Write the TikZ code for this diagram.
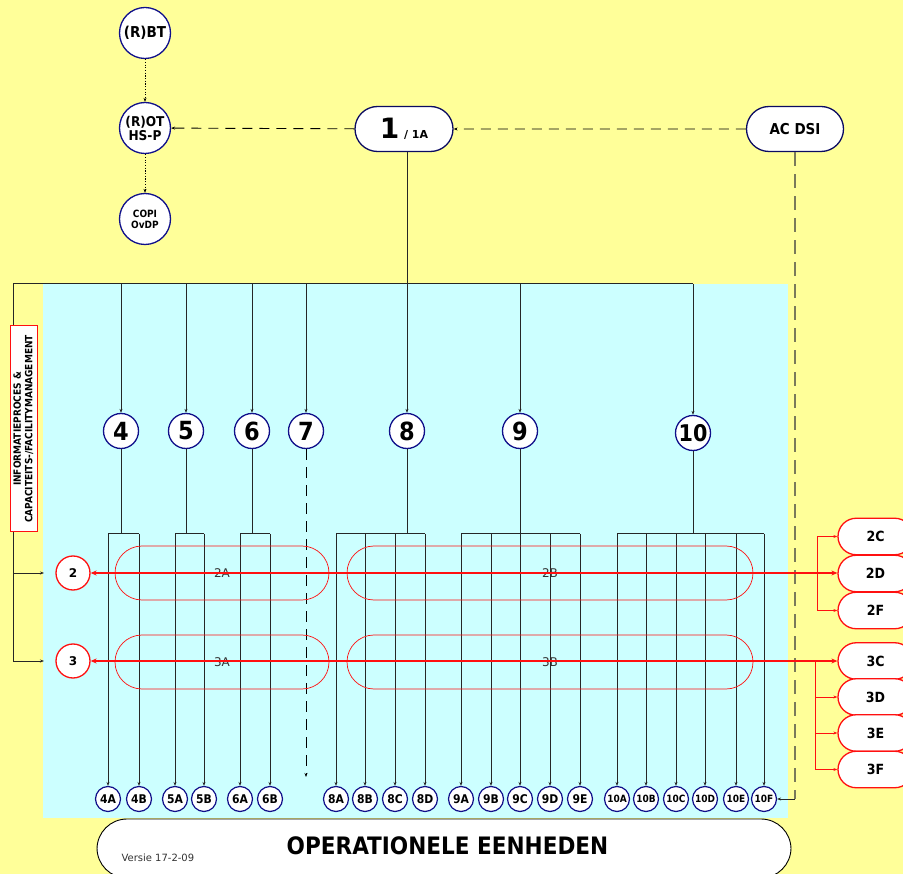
\documentclass[tikz,border=0pt]{standalone}
\usepackage{fontspec}
\setmainfont{DejaVu Sans}
\newfontfamily\cond{DejaVu Sans Condensed}
\usetikzlibrary{arrows.meta,shapes.misc}
\definecolor{bgyellow}{HTML}{FFFF99}
\definecolor{bgcyan}{HTML}{CCFFFF}
\definecolor{navyb}{HTML}{10108A}
\definecolor{dsigray}{HTML}{7A7A5A}
\definecolor{redl}{HTML}{FF1010}
\definecolor{txtgray}{HTML}{333333}
\tikzset{
  tip/.style={-{Stealth[length=4pt,width=3pt]}},
  blk/.style={draw=black!85, line width=1pt},
  mcirc/.style={circle, draw=navyb, line width=1.3pt, fill=white, inner sep=0pt, minimum size=35pt, font=\cond\bfseries\fontsize{25}{25}\selectfont},
  tcirc/.style={circle, draw=navyb, line width=1.3pt, fill=white, inner sep=0pt, minimum size=51pt, align=center, font=\cond\bfseries},
  bcirc/.style={circle, draw=navyb, line width=1.2pt, fill=white, inner sep=0pt, minimum size=25pt, font=\cond\bfseries\fontsize{12}{12}\selectfont},
  bcircs/.style={bcirc, font=\cond\bfseries\fontsize{10}{10}\selectfont},
  stad/.style={rounded rectangle, draw=navyb!70!black, line width=1.3pt, fill=white, minimum height=45pt, inner sep=0pt},
  rcirc/.style={circle, draw=redl, line width=1.3pt, fill=white, inner sep=0pt, minimum size=34pt, font=\bfseries\fontsize{12}{12}\selectfont},
  rbox/.style={rounded rectangle, draw=redl, line width=1.3pt, fill=white, minimum width=75pt, minimum height=36.5pt, inner sep=0pt, font=\cond\bfseries\fontsize{14}{14}\selectfont},
  rstad/.style={rounded rectangle, draw=redl, line width=0.7pt, minimum height=54pt, inner sep=0pt, font=\fontsize{12}{12}\selectfont, text=txtgray},
  redline/.style={draw=redl, line width=1.8pt},
  redthin/.style={draw=redl, line width=1pt},
  dasharr/.style={draw=black, line width=0.9pt, dash pattern=on 10pt off 7pt, tip},
  dotarr/.style={draw=black, line width=0.9pt, dash pattern=on 1.2pt off 1.5pt, tip},
}
\begin{document}
\begin{tikzpicture}[x=1pt,y=-1pt]
\useasboundingbox (0,0) rectangle (903,874);
\clip (0,0) rectangle (903,874);
\fill[bgyellow] (0,0) rectangle (903,874);
\fill[bgcyan] (43,284) rectangle (788,818);

% top nodes
\node[tcirc, font=\cond\bfseries\fontsize{15}{15}\selectfont] (rbt) at (145,33) {(R)BT};
\node[tcirc, font=\cond\bfseries\fontsize{13.5}{14}\selectfont] (rot) at (145,128) {(R)OT\\HS-P};
\node[tcirc, font=\cond\bfseries\fontsize{10}{11}\selectfont] (copi) at (145,219) {COPI\\OvDP};
\node[stad, minimum width=98pt] (one) at (404,129) {\fontsize{28}{28}\selectfont\bfseries 1\,\fontsize{11}{11}\selectfont / 1A};
\node[stad, minimum width=97pt, font=\cond\bfseries\fontsize{15}{15}\selectfont] (dsi) at (795,129) {AC DSI};

\draw[dotarr] (rbt) -- (rot);
\draw[dotarr] (rot) -- (copi);
\draw[dasharr] (dsi) -- (one);
\draw[dasharr] (one) -- (rot);

% distribution line
\coordinate (hl) at (13,284);
\coordinate (hr) at (693,284);
\coordinate (hj) at (407,284);
\draw[blk] (one.south -| hj) -- (hj);
\draw[blk] (hl) -- (hr);
\coordinate (l2) at (13,573);
\coordinate (l3) at (13,661);
\coordinate (a2) at (44,573);
\coordinate (a3) at (44,661);
\draw[blk] (hl) -- (l3);
\draw[blk,tip] (l2) -- (a2);
\draw[blk,tip] (l3) -- (a3);

% left label
\node[draw=redl, line width=1pt, fill=white, rotate=90, minimum width=206pt, minimum height=27pt, inner sep=1pt, align=center, font=\cond\bfseries\fontsize{10}{11.5}\selectfont] (info) at (23.5,429) {INFORMATIEPROCES \&\\CAPACITEITS-/FACILITYMANAGEMENT};

% main circles
\foreach \n/\x in {4/121,5/186,6/252,7/306,8/407,9/520}{
  \node[mcirc] (m\n) at (\x,431) {\n};
  \coordinate (h\n) at (\x,284);
  \draw[blk,tip] (h\n) -- (m\n);
}
\node[mcirc, font=\cond\bfseries\fontsize{23}{23}\selectfont] (m10) at (693,433) {10};
\coordinate (h10) at (693,284);
\draw[blk,tip] (h10) -- (m10);

% stems and brackets
\foreach \n/\x/\a/\b in {4/121/108/139,5/186/175/204,6/252/240/270,8/407/336/425,9/520/461/580,10/693/617/764}{
  \coordinate (s\n) at (\x,534);
  \coordinate (bl\n) at (\a,534);
  \coordinate (br\n) at (\b,534);
  \draw[blk] (m\n) -- (s\n);
  \draw[blk] (bl\n) -- (br\n);
}
\coordinate (e7) at (306,777);
\draw[draw=black, line width=0.9pt, dash pattern=on 11pt off 7pt, tip] (m7) -- (e7);

% bottom circles
\foreach \lab/\x in {4A/108,4B/139,5A/175,5B/204,6A/240,6B/270,8A/336,8B/365,8C/395,8D/425,9A/461,9B/491,9C/520,9D/550,9E/580}{
  \node[bcirc] (c\lab) at (\x,799) {\lab};
  \coordinate (t\lab) at (\x,534);
  \draw[blk,tip] (t\lab) -- (c\lab);
}
\foreach \lab/\x in {10A/617,10B/646,10C/676,10D/705,10E/736,10F/764}{
  \node[bcircs] (c\lab) at (\x,799) {\lab};
  \coordinate (t\lab) at (\x,534);
  \draw[blk,tip] (t\lab) -- (c\lab);
}

% AC DSI dashed line
\coordinate (dsiend) at (795,799);
\draw[draw=dsigray, line width=1.8pt, dash pattern=on 14pt off 8pt] (dsi.south -| dsiend) -- (dsiend);
\draw[blk,tip] (dsiend) -- (c10F);

% red part
\node[rstad, minimum width=214pt] (r2A) at (222,573) {2A};
\node[rstad, minimum width=406pt] (r2B) at (550,573) {2B};
\node[rstad, minimum width=214pt] (r3A) at (222,662) {3A};
\node[rstad, minimum width=406pt] (r3B) at (550,662) {3B};

\node[rcirc] (c2) at (73,573) {2};
\node[rcirc] (c3) at (73,661) {3};

\node[rbox] (b2C) at (875.5,536.5) {2C};
\node[rbox] (b2D) at (875.5,573.5) {2D};
\node[rbox] (b2F) at (875.5,610.5) {2F};
\node[rbox] (b3C) at (875.5,661) {3C};
\node[rbox] (b3D) at (875.5,697) {3D};
\node[rbox] (b3E) at (875.5,733) {3E};
\node[rbox] (b3F) at (875.5,769.5) {3F};

\draw[redline, {Stealth[length=6pt,width=5pt]}-{Stealth[length=6pt,width=5pt]}] (c2) -- (c2 -| b2D.west);
\draw[redline, {Stealth[length=6pt,width=5pt]}-{Stealth[length=6pt,width=5pt]}] (c3) -- (c3 -| b3C.west);

\coordinate (k2c) at (817,536.5);
\coordinate (k2f) at (817,610.5);
\draw[redthin] (k2c) -- (k2f);
\draw[redthin,tip] (k2c) -- (b2C);
\draw[redthin,tip] (k2f) -- (b2F);

\coordinate (k3c) at (815,661);
\coordinate (k3d) at (815,697);
\coordinate (k3e) at (815,733);
\coordinate (k3f) at (815,769.5);
\draw[redthin] (k3c) -- (k3f);
\draw[redthin,tip] (k3d) -- (b3D);
\draw[redthin,tip] (k3e) -- (b3E);
\draw[redthin,tip] (k3f) -- (b3F);

% banner
\draw[fill=white, draw=black, line width=0.9pt, rounded corners=30pt] (97,819) rectangle (791,878);
\node[font=\cond\bfseries\fontsize{24}{24}\selectfont] (oe) at (447.5,846) {OPERATIONELE EENHEDEN};
\node[font=\fontsize{10}{10}\selectfont, text=txtgray, anchor=west] (ver) at (118,858) {Versie 17-2-09};
\end{tikzpicture}
\end{document}
